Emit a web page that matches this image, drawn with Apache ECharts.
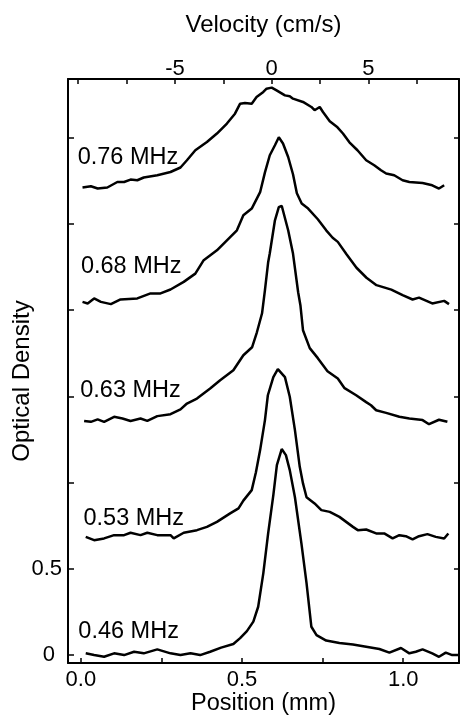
<!DOCTYPE html>
<html>
<head>
<meta charset="utf-8">
<script src="https://cdn.jsdelivr.net/npm/echarts@6/dist/echarts.min.js"></script>
<style>
html,body{margin:0;padding:0;background:#fff;}
#chart{width:460px;height:715px;}
</style>
</head>
<body>
<div id="chart"></div>
<script>
// ---- data (Position in mm, Optical Density with the plotted vertical offsets) ----
const seriesNames = ['0.76 MHz', '0.68 MHz', '0.63 MHz', '0.53 MHz', '0.46 MHz'];

const pos076 = [0.005,0.031,0.052,0.082,0.113,0.134,0.154,0.175,0.195,0.237,0.278,0.309,0.329,0.355,0.391,0.422,0.453,0.478,0.494,0.509,0.530,0.545,0.566,0.576,0.592,0.607,0.633,0.648,0.658,0.689,0.715,0.725,0.741,0.751,0.772,0.796,0.813,0.833,0.858,0.885,0.910,0.931,0.947,0.972,0.998,1.019,1.060,1.090,1.111,1.127];
const od076  = [2.710,2.717,2.704,2.710,2.742,2.742,2.756,2.752,2.768,2.781,2.800,2.826,2.868,2.926,2.974,3.023,3.081,3.138,3.196,3.200,3.196,3.235,3.264,3.283,3.289,3.273,3.244,3.239,3.225,3.206,3.177,3.158,3.177,3.148,3.094,3.059,3.023,2.972,2.926,2.868,2.839,2.810,2.791,2.781,2.752,2.742,2.736,2.723,2.704,2.723];

const pos068 = [0.005,0.021,0.041,0.062,0.093,0.123,0.175,0.216,0.247,0.278,0.319,0.355,0.381,0.422,0.453,0.484,0.504,0.530,0.556,0.571,0.586,0.602,0.614,0.627,0.643,0.658,0.670,0.685,0.705,0.735,0.761,0.781,0.797,0.824,0.855,0.886,0.917,0.963,0.998,1.029,1.049,1.090,1.127,1.142];
const od068  = [2.047,2.038,2.067,2.047,2.034,2.061,2.067,2.096,2.096,2.119,2.163,2.211,2.289,2.346,2.404,2.462,2.549,2.588,2.683,2.798,2.897,2.955,3.001,2.965,2.887,2.787,2.677,2.617,2.588,2.526,2.462,2.419,2.395,2.323,2.245,2.187,2.144,2.118,2.086,2.061,2.072,2.038,2.053,2.034];

const pos063 = [0.010,0.031,0.052,0.072,0.103,0.129,0.154,0.185,0.206,0.237,0.278,0.309,0.329,0.360,0.401,0.432,0.473,0.504,0.531,0.546,0.562,0.571,0.581,0.586,0.602,0.614,0.623,0.643,0.658,0.674,0.681,0.689,0.710,0.735,0.765,0.797,0.818,0.854,0.885,0.900,0.916,0.947,0.988,1.019,1.060,1.080,1.111,1.137];
const od063  = [1.357,1.352,1.366,1.352,1.381,1.371,1.357,1.371,1.357,1.385,1.396,1.424,1.458,1.487,1.545,1.593,1.651,1.738,1.784,1.871,1.981,2.115,2.277,2.329,2.520,2.596,2.604,2.462,2.327,2.103,2.028,1.883,1.779,1.721,1.645,1.603,1.547,1.506,1.466,1.448,1.419,1.404,1.381,1.371,1.362,1.338,1.364,1.352];

const pos053 = [0.015,0.041,0.072,0.103,0.134,0.154,0.185,0.206,0.237,0.278,0.288,0.319,0.360,0.391,0.422,0.463,0.489,0.504,0.530,0.543,0.556,0.571,0.580,0.597,0.611,0.633,0.648,0.664,0.679,0.689,0.700,0.725,0.746,0.772,0.802,0.844,0.859,0.885,0.916,0.941,0.967,0.988,1.008,1.029,1.049,1.075,1.101,1.127,1.140];
const od053  = [0.685,0.666,0.676,0.695,0.695,0.709,0.695,0.709,0.695,0.695,0.676,0.709,0.724,0.743,0.772,0.821,0.850,0.895,0.956,1.060,1.188,1.362,1.506,1.611,1.657,1.611,1.497,1.304,1.091,0.995,0.915,0.879,0.840,0.830,0.801,0.743,0.724,0.728,0.705,0.705,0.676,0.695,0.689,0.670,0.689,0.701,0.685,0.676,0.705];

const pos046 = [0.015,0.041,0.072,0.103,0.134,0.165,0.195,0.237,0.278,0.309,0.340,0.370,0.401,0.435,0.473,0.494,0.515,0.535,0.550,0.566,0.581,0.597,0.608,0.623,0.636,0.648,0.664,0.684,0.700,0.715,0.731,0.761,0.802,0.844,0.885,0.926,0.957,0.993,1.019,1.039,1.060,1.090,1.111,1.132,1.152,1.170];
const od046  = [0.010,0.000,-0.010,0.010,0.000,0.019,0.010,0.033,0.010,0.000,0.010,0.000,0.019,0.043,0.064,0.098,0.139,0.194,0.280,0.475,0.707,0.927,1.101,1.194,1.159,1.072,0.915,0.649,0.417,0.164,0.116,0.084,0.070,0.061,0.048,0.035,0.014,0.041,0.010,0.019,0.033,0.010,-0.010,0.014,0.000,0.000];

// label anchor points (data units: mm, OD)
const labelPos = [-0.010, 0.000, -0.002, 0.008, -0.008];
const labelOD  = [2.885, 2.251, 1.535, 0.794, 0.136];

// axis ticks
const posTicks = [0, 0.25, 0.5, 0.75, 1.0];
const posLabels = [0, 0.5, 1.0];
const velTicks = [-10, -7.5, -5, -2.5, 0, 2.5, 5, 7.5];
const velLabels = [-5, 0, 5];
const odTicks = [0, 0.5, 1.0, 1.5, 2.0, 2.5, 3.0];
const odLabels = [0, 0.5];

const allPos = [pos076, pos068, pos063, pos053, pos046];
const allOD = [od076, od068, od063, od053, od046];

const FONT = '"Liberation Sans", Arial, Helvetica, sans-serif';
const chart = echarts.init(document.getElementById('chart'), null, {renderer: 'canvas'});

const series = seriesNames.map((name, i) => ({
  name: name,
  type: 'line',
  xAxisIndex: 0,
  yAxisIndex: 0,
  symbol: 'none',
  smooth: false,
  lineStyle: {color: '#000', width: 2.5},
  data: allPos[i].map((x, k) => [x, allOD[i][k]]),
  markPoint: {
    symbol: 'circle',
    symbolSize: 0,
    silent: true,
    itemStyle: {color: 'rgba(0,0,0,0)'},
    label: {
      show: true,
      position: 'right',
      distance: 0,
      formatter: name,
      color: '#000',
      fontFamily: FONT,
      fontSize: 23.5
    },
    data: [{coord: [labelPos[i], labelOD[i]]}]
  }
}));

const axisLineStyle = {show: true, onZero: false, lineStyle: {color: '#000', width: 2}};

chart.setOption({
  animation: false,
  backgroundColor: '#fff',
  grid: {left: 68, right: 1, top: 79, bottom: 52, containLabel: false, outerBoundsMode: 'none'},
  xAxis: [
    {
      type: 'value', position: 'bottom', min: -0.04, max: 1.173,
      axisLine: axisLineStyle,
      axisTick: {show: true, inside: true, length: 5, lineStyle: {color: '#000', width: 1.5}, customValues: posTicks},
      axisLabel: {show: true, customValues: posLabels, formatter: v => v.toFixed(1), color: '#000', fontFamily: FONT, fontSize: 22, margin: 6},
      splitLine: {show: false},
      name: 'Position (mm)', nameLocation: 'middle', nameGap: 29, nameMoveOverlap: false,
      nameTextStyle: {color: '#000', fontFamily: FONT, fontSize: 23.5}
    },
    {
      type: 'value', position: 'top', min: -10.53, max: 9.69,
      axisLine: axisLineStyle,
      axisTick: {show: true, inside: true, length: 5, lineStyle: {color: '#000', width: 1.5}, customValues: velTicks},
      axisLabel: {show: true, customValues: velLabels, formatter: v => String(v), color: '#000', fontFamily: FONT, fontSize: 22, margin: -1},
      splitLine: {show: false},
      name: 'Velocity (cm/s)', nameLocation: 'middle', nameGap: 42, nameMoveOverlap: false,
      nameTextStyle: {color: '#000', fontFamily: FONT, fontSize: 24}
    }
  ],
  yAxis: [
    {
      type: 'value', position: 'left', min: -0.046, max: 3.339,
      axisLine: axisLineStyle,
      axisTick: {show: true, inside: true, length: 6, lineStyle: {color: '#000', width: 1.5}, customValues: odTicks},
      axisLabel: {
        show: true, customValues: odLabels,
        formatter: v => (v === 0 ? '{z|0}' : String(v)),
        rich: {z: {padding: [0, 7, 0, 0], fontSize: 22, fontFamily: FONT, color: '#000'}},
        color: '#000', fontFamily: FONT, fontSize: 22, margin: 6
      },
      splitLine: {show: false},
      name: 'Optical Density', nameLocation: 'middle', nameRotate: 90, nameGap: 34, nameMoveOverlap: false,
      nameTextStyle: {color: '#000', fontFamily: FONT, fontSize: 24, padding: [0, 20, 0, 0]}
    },
    {
      type: 'value', position: 'right', min: -0.046, max: 3.339,
      axisLine: axisLineStyle,
      axisTick: {show: true, inside: true, length: 5, lineStyle: {color: '#000', width: 1.5}, customValues: odTicks},
      axisLabel: {show: false},
      splitLine: {show: false}
    }
  ],
  series: series
});
</script>
</body>
</html>
